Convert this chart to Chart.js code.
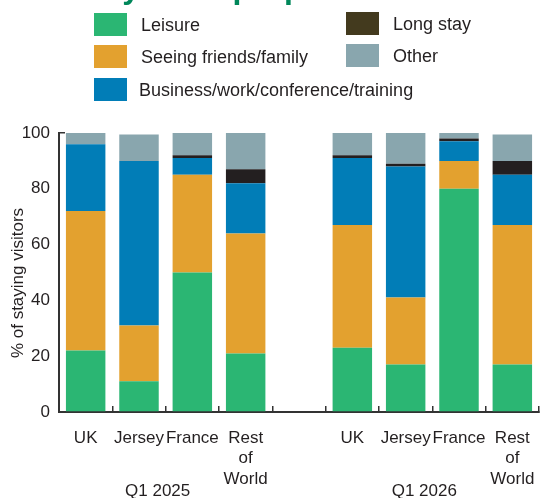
<!DOCTYPE html>
<html>
<head>
<meta charset="utf-8">
<script src="https://cdn.jsdelivr.net/npm/chart.js@4"></script>
<style>
  html, body { margin: 0; padding: 0; background: #fff; }
  #wrap { position: relative; width: 541px; height: 498px; overflow: hidden; font-family: "Liberation Sans", Arial, sans-serif; color: #231f20; }
  #chart { position: absolute; left: 0; top: 0; }
  .lg { position: absolute; font-size: 18px; line-height: 24px; white-space: nowrap; }
  .lg span { position: absolute; width: 33px; height: 23px; left: 0; top: 0; }
  .lg b { position: absolute; font-weight: normal; top: 0; }
</style>
</head>
<body>
<div id="wrap">
  <canvas id="chart" width="541" height="498"></canvas>
  <div class="lg" style="left:94px;top:13px"><span style="background:#2bb673"></span><b style="left:47px">Leisure</b></div>
  <div class="lg" style="left:94px;top:45px"><span style="background:#e3a12f"></span><b style="left:47px">Seeing friends/family</b></div>
  <div class="lg" style="left:94px;top:78px"><span style="background:#017db7"></span><b style="left:45px">Business/work/conference/training</b></div>
  <div class="lg" style="left:346px;top:12px"><span style="background:#433a1e"></span><b style="left:47px">Long stay</b></div>
  <div class="lg" style="left:346px;top:44px"><span style="background:#89a6ae"></span><b style="left:47px">Other</b></div>
</div>
<script>
// categories (empty slot separates the two quarters)
const categories = ['UK', 'Jersey', 'France', ['Rest', 'of', 'World'], '', 'UK', 'Jersey', 'France', ['Rest', 'of', 'World']];
const groups = ['Q1 2025', 'Q1 2026'];

// % of staying visitors
const leisure  = [22, 11, 50, 21, null, 23, 17, 80, 17];
const friends  = [50, 20, 35, 43, null, 44, 24, 10, 50];
const business = [24, 59, 6, 18, null, 24, 47, 7, 18];
const longStay = [0, 0, 1, 5, null, 1, 1, 1, 5];
const other    = [4, 9.5, 8, 13, null, 8, 11, 2, 9.5];

const yTicks = [0, 20, 40, 60, 80, 100];

const textColor = '#231f20';
const font = 'Liberation Sans';

// title, y-axis title and quarter labels
const extrasPlugin = {
    id: 'extras',
    afterDraw(chart) {
        const ctx = chart.ctx;
        const x = chart.scales.x;
        const area = chart.chartArea;
        ctx.save();

        // title, mostly cut off at the top
        ctx.fillStyle = '#00875a';
        ctx.font = 'bold 32px ' + font;
        ctx.textAlign = 'left';
        ctx.textBaseline = 'alphabetic';
        ctx.fillText('Visitors by main purpose of visit', -23, -2);

        // y axis title
        ctx.fillStyle = textColor;
        ctx.font = '17px ' + font;
        ctx.translate(18, 283);
        ctx.rotate(-Math.PI / 2);
        ctx.textAlign = 'center';
        ctx.textBaseline = 'middle';
        ctx.fillText('% of staying visitors', 0, 0);
        ctx.setTransform(1, 0, 0, 1, 0, 0);

        // quarter labels under each group
        ctx.font = '17px ' + font;
        ctx.textAlign = 'center';
        ctx.textBaseline = 'middle';
        groups.forEach((g, i) => {
            const a = x.getPixelForValue(i * 5 + 1);
            const b = x.getPixelForValue(i * 5 + 2);
            ctx.fillText(g, (a + b) / 2 - 8, area.bottom + 79);
        });
        ctx.restore();
    }
};

const ds = (label, data, color) => ({
    label: label,
    data: data,
    backgroundColor: color,
    borderWidth: 0,
    barPercentage: 0.74,
    categoryPercentage: 1
});

new Chart(document.getElementById('chart'), {
    type: 'bar',
    data: {
        labels: categories,
        datasets: [
            ds('Leisure', leisure, '#2bb673'),
            ds('Seeing friends/family', friends, '#e3a12f'),
            ds('Business/work/conference/training', business, '#017db7'),
            ds('Long stay', longStay, '#231f20'),
            ds('Other', other, '#89a6ae')
        ]
    },
    options: {
        responsive: false,
        animation: false,
        layout: { padding: { top: 133, left: 0, right: 2, bottom: 0 } },
        plugins: {
            legend: { display: false },
            tooltip: { enabled: false }
        },
        scales: {
            x: {
                stacked: true,
                afterFit: s => { s.height = 86; s.paddingLeft = 0; s.paddingRight = 0; },
                border: { display: true, color: '#333', width: 2 },
                grid: {
                    offset: true,
                    drawOnChartArea: false,
                    drawTicks: true,
                    tickLength: -6,
                    color: '#333',
                    lineWidth: 1.5
                },
                ticks: {
                    color: textColor,
                    font: { family: font, size: 17 },
                    padding: 22,
                    maxRotation: 0,
                    autoSkip: false
                }
            },
            y: {
                stacked: true,
                min: 0,
                max: 100,
                afterFit: s => { s.width = 59; s.paddingTop = 0; s.paddingBottom = 0; },
                afterBuildTicks: s => { s.ticks = yTicks.map(v => ({ value: v })); },
                border: { display: true, color: '#333', width: 2 },
                grid: {
                    drawOnChartArea: false,
                    drawTicks: true,
                    tickLength: -6,
                    lineWidth: 1.5,
                    color: c => (c.tick && c.tick.value === 100 ? '#333' : 'rgba(0,0,0,0)')
                },
                ticks: {
                    color: textColor,
                    font: { family: font, size: 17 },
                    padding: 15
                }
            }
        }
    },
    plugins: [extrasPlugin]
});
</script>
</body>
</html>
